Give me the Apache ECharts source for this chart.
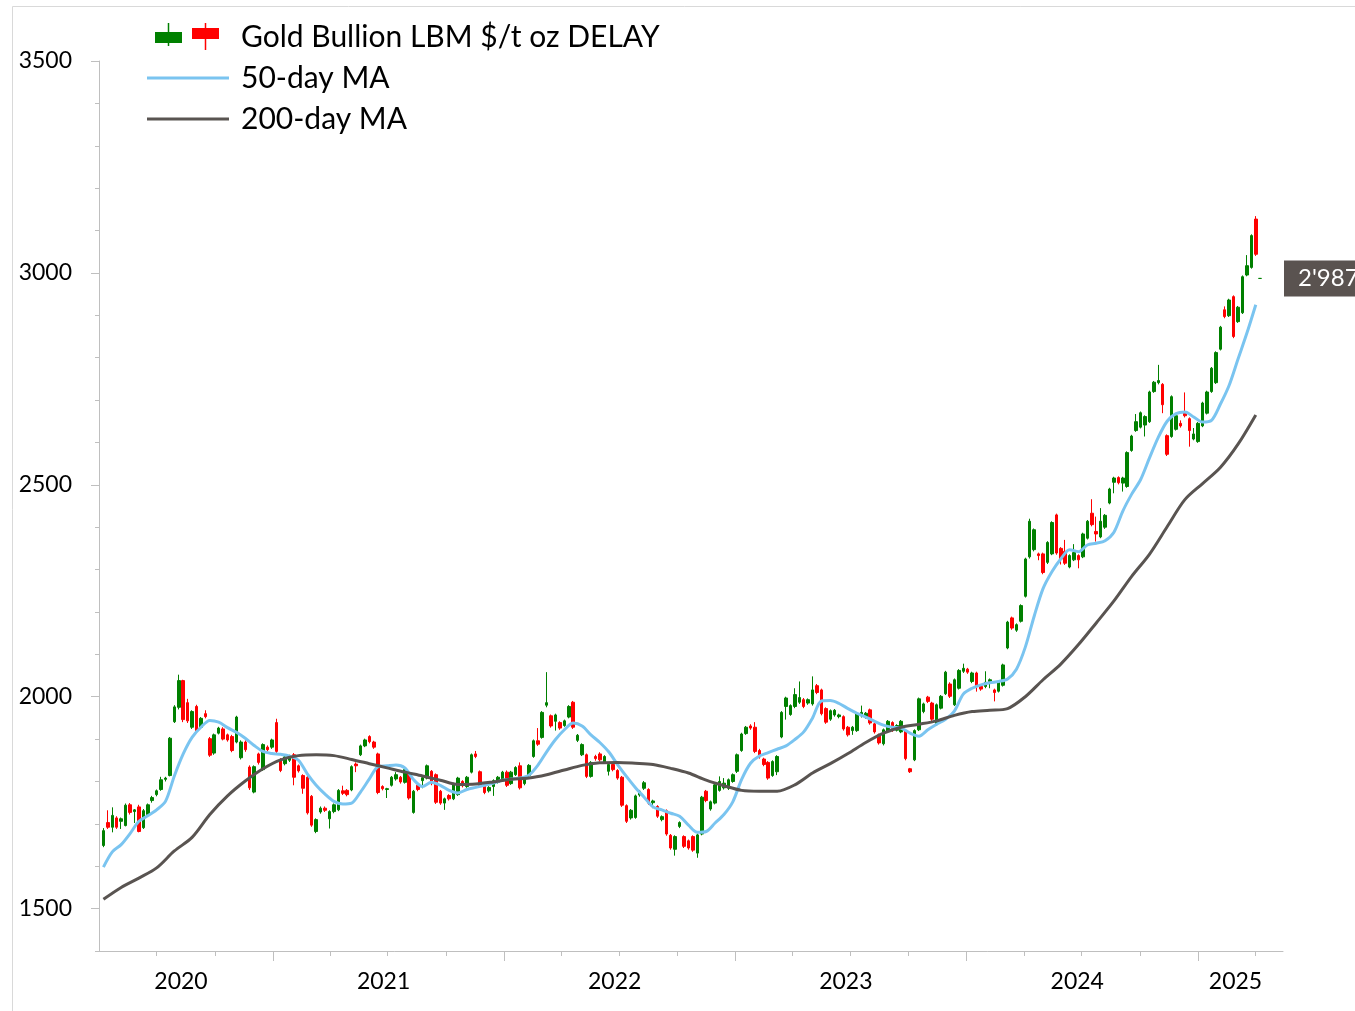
<!DOCTYPE html>
<html>
<head>
<meta charset="utf-8">
<title>Gold Bullion LBM</title>
<script src="https://cdn.jsdelivr.net/npm/echarts@6/dist/echarts.min.js"></script>
<style>
  html, body { margin: 0; padding: 0; background: #fff; }
  #chart { width: 1355px; height: 1011px; }
</style>
</head>
<body>
<div id="chart"></div>
<script>
// weekly candles, [open, close, low, high]; first week starts Mon 2020-04-06
const firstWeek = '2020-04-06'

const ohlc2020 = [
  [1649, 1684, 1645, 1690], [1703, 1692, 1688, 1732], [1692, 1720, 1680, 1739], [1714, 1692, 1688, 1718],
  [1706, 1712, 1688, 1715], [1696, 1744, 1694, 1748], [1745, 1727, 1722, 1749], [1729, 1733, 1702, 1735],
  [1740, 1682, 1680, 1745], [1691, 1731, 1688, 1735], [1722, 1745, 1718, 1748], [1755, 1762, 1750, 1766],
  [1769, 1778, 1765, 1781], [1781, 1804, 1778, 1811], [1805, 1808, 1800, 1811], [1814, 1902, 1812, 1905],
  [1941, 1976, 1938, 1980], [1975, 2038, 1970, 2052], [2038, 1946, 1940, 2040], [1986, 1943, 1938, 1995],
  [1928, 1965, 1924, 1968], [1977, 1920, 1915, 1981], [1928, 1949, 1925, 1952], [1960, 1953, 1949, 1968],
  [1901, 1862, 1858, 1905], [1867, 1910, 1863, 1913], [1914, 1926, 1911, 1929], [1924, 1900, 1897, 1928],
  [1910, 1898, 1894, 1913], [1906, 1873, 1869, 1910], [1893, 1952, 1890, 1955], [1856, 1893, 1852, 1897],
  [1893, 1875, 1870, 1897], [1834, 1785, 1780, 1838], [1775, 1835, 1772, 1838], [1865, 1845, 1840, 1868],
  [1828, 1887, 1825, 1890], [1881, 1875, 1871, 1885], [1881, 1898, 1877, 1901]
]
const ohlc2021 = [
  [1939, 1871, 1866, 1948], [1850, 1826, 1822, 1855], [1842, 1858, 1838, 1861], [1850, 1859, 1846, 1863],
  [1863, 1810, 1791, 1867], [1837, 1825, 1821, 1840], [1814, 1784, 1771, 1817], [1810, 1726, 1722, 1813],
  [1765, 1697, 1693, 1768], [1682, 1710, 1678, 1713], [1728, 1737, 1724, 1741], [1737, 1732, 1728, 1741],
  [1712, 1729, 1689, 1732], [1729, 1745, 1725, 1748], [1733, 1779, 1730, 1782], [1778, 1772, 1768, 1790],
  [1779, 1769, 1765, 1782], [1780, 1835, 1777, 1838], [1841, 1837, 1822, 1845], [1863, 1884, 1860, 1887],
  [1884, 1898, 1881, 1901], [1906, 1894, 1890, 1909], [1893, 1881, 1877, 1896], [1865, 1774, 1770, 1868],
  [1788, 1783, 1779, 1791], [1781, 1783, 1761, 1785], [1791, 1810, 1788, 1813], [1806, 1816, 1802, 1822],
  [1810, 1799, 1795, 1813], [1798, 1828, 1795, 1831], [1818, 1761, 1757, 1821], [1727, 1777, 1724, 1780],
  [1791, 1781, 1777, 1794], [1802, 1809, 1784, 1812], [1808, 1837, 1805, 1840], [1824, 1795, 1791, 1827],
  [1816, 1751, 1747, 1819], [1777, 1749, 1745, 1780], [1749, 1759, 1733, 1762], [1767, 1759, 1755, 1770],
  [1759, 1794, 1756, 1797], [1769, 1808, 1766, 1811], [1800, 1790, 1786, 1803], [1788, 1810, 1785, 1813],
  [1822, 1863, 1819, 1866], [1865, 1859, 1855, 1872], [1823, 1791, 1787, 1826], [1789, 1774, 1770, 1792],
  [1778, 1786, 1774, 1789], [1788, 1802, 1766, 1805], [1798, 1810, 1795, 1813], [1804, 1822, 1801, 1825]
]
const ohlc2022 = [
  [1822, 1791, 1787, 1826], [1795, 1822, 1792, 1825], [1816, 1833, 1813, 1836], [1837, 1785, 1781, 1845],
  [1795, 1807, 1791, 1810], [1814, 1838, 1811, 1841], [1859, 1896, 1856, 1899], [1896, 1888, 1884, 1926],
  [1904, 1963, 1901, 1966], [1980, 1986, 1975, 2058], [1955, 1931, 1927, 1958], [1942, 1957, 1920, 1960],
  [1939, 1926, 1922, 1942], [1932, 1943, 1929, 1946], [1952, 1977, 1949, 1980], [1987, 1928, 1924, 1990],
  [1897, 1909, 1893, 1912], [1863, 1887, 1860, 1890], [1863, 1812, 1808, 1866], [1812, 1845, 1809, 1848],
  [1859, 1854, 1849, 1863], [1865, 1851, 1847, 1869], [1845, 1859, 1842, 1862], [1824, 1840, 1814, 1843],
  [1840, 1828, 1824, 1843], [1826, 1808, 1804, 1829], [1810, 1744, 1740, 1813], [1743, 1706, 1702, 1746],
  [1714, 1732, 1710, 1735], [1715, 1766, 1712, 1769], [1768, 1777, 1764, 1780], [1784, 1797, 1780, 1801],
  [1781, 1749, 1745, 1784], [1750, 1754, 1737, 1757], [1741, 1718, 1714, 1744], [1710, 1717, 1706, 1720],
  [1731, 1676, 1672, 1734], [1673, 1643, 1639, 1676], [1640, 1670, 1625, 1673], [1694, 1703, 1690, 1706],
  [1670, 1647, 1643, 1673], [1660, 1643, 1639, 1663], [1670, 1638, 1634, 1673], [1631, 1674, 1620, 1677],
  [1676, 1763, 1673, 1766], [1777, 1755, 1751, 1780], [1735, 1752, 1731, 1755], [1749, 1792, 1746, 1795],
  [1779, 1800, 1776, 1812], [1785, 1796, 1781, 1808], [1784, 1804, 1780, 1807], [1800, 1816, 1797, 1819]
]
const ohlc2023 = [
  [1824, 1863, 1820, 1866], [1873, 1912, 1870, 1915], [1913, 1928, 1910, 1931], [1931, 1926, 1922, 1935],
  [1928, 1871, 1867, 1940], [1873, 1858, 1854, 1877], [1853, 1840, 1836, 1856], [1845, 1808, 1804, 1848],
  [1814, 1847, 1811, 1850], [1823, 1859, 1815, 1862], [1905, 1963, 1902, 1966], [1977, 1997, 1946, 2000],
  [1958, 1979, 1955, 1982], [1977, 2005, 1973, 2020], [1987, 1998, 1983, 2036], [1993, 1977, 1973, 1997],
  [1985, 1993, 1981, 1996], [1983, 2016, 1979, 2048], [2026, 2010, 2006, 2030], [2016, 1960, 1956, 2019],
  [1972, 1940, 1936, 1975], [1947, 1967, 1943, 1970], [1957, 1968, 1953, 1971], [1953, 1957, 1949, 1960],
  [1953, 1924, 1920, 1956], [1928, 1910, 1906, 1931], [1920, 1928, 1910, 1931], [1920, 1960, 1917, 1963],
  [1955, 1963, 1951, 1979], [1952, 1961, 1948, 1964], [1969, 1938, 1934, 1972], [1936, 1917, 1913, 1939],
  [1910, 1891, 1887, 1913], [1889, 1922, 1885, 1925], [1918, 1942, 1915, 1945], [1939, 1921, 1917, 1942],
  [1921, 1932, 1918, 1935], [1917, 1942, 1914, 1945], [1920, 1854, 1850, 1923], [1830, 1823, 1820, 1832],
  [1851, 1920, 1848, 1923], [1922, 1995, 1919, 1998], [1965, 1983, 1961, 1986], [1999, 1989, 1985, 2002],
  [1985, 1947, 1943, 1988], [1934, 1981, 1931, 1984], [1973, 2001, 1970, 2004], [2007, 2058, 2004, 2061],
  [2030, 2001, 1997, 2034], [1981, 2040, 1978, 2043], [2020, 2062, 2017, 2065], [2060, 2067, 2056, 2078]
]
const ohlc2024 = [
  [2065, 2058, 2054, 2068], [2036, 2056, 2032, 2059], [2056, 2024, 2012, 2059], [2024, 2018, 2014, 2027],
  [2024, 2034, 2020, 2060], [2036, 2040, 2020, 2043], [2016, 2010, 1989, 2019], [2013, 2036, 2010, 2039],
  [2027, 2075, 2024, 2078], [2115, 2176, 2112, 2179], [2186, 2162, 2158, 2189], [2157, 2170, 2153, 2173],
  [2178, 2215, 2175, 2218], [2237, 2325, 2234, 2328], [2330, 2414, 2326, 2420], [2347, 2394, 2343, 2397],
  [2337, 2333, 2322, 2340], [2337, 2293, 2289, 2340], [2317, 2364, 2313, 2367], [2337, 2411, 2334, 2414],
  [2429, 2339, 2335, 2432], [2350, 2325, 2312, 2353], [2343, 2315, 2311, 2370], [2306, 2333, 2303, 2336],
  [2323, 2340, 2320, 2360], [2333, 2323, 2303, 2336], [2330, 2384, 2327, 2387], [2374, 2414, 2371, 2417],
  [2433, 2406, 2402, 2466], [2390, 2384, 2366, 2425], [2377, 2414, 2374, 2445], [2400, 2428, 2396, 2431],
  [2457, 2490, 2454, 2493], [2506, 2516, 2480, 2519], [2517, 2505, 2501, 2520], [2504, 2516, 2484, 2519],
  [2496, 2576, 2493, 2579], [2581, 2615, 2578, 2618], [2628, 2649, 2625, 2667], [2636, 2670, 2633, 2673],
  [2641, 2661, 2614, 2664], [2649, 2719, 2646, 2722], [2720, 2742, 2717, 2745], [2741, 2746, 2737, 2783],
  [2737, 2689, 2669, 2740], [2616, 2572, 2568, 2619], [2614, 2708, 2611, 2711], [2631, 2663, 2628, 2666],
  [2645, 2639, 2635, 2652], [2670, 2663, 2659, 2718], [2656, 2628, 2590, 2659], [2608, 2620, 2605, 2634],
  [2602, 2645, 2599, 2648]
]
const ohlc2025 = [
  [2639, 2693, 2636, 2696], [2669, 2719, 2666, 2722], [2720, 2775, 2717, 2778], [2741, 2812, 2738, 2815],
  [2820, 2872, 2817, 2875], [2913, 2897, 2893, 2921], [2899, 2936, 2896, 2939], [2944, 2850, 2846, 2947],
  [2885, 2919, 2882, 2922], [2906, 2991, 2903, 2994], [2995, 3017, 2992, 3042], [3013, 3088, 3010, 3091],
  [3127, 3044, 3040, 3134], [2987, 2987, 2987, 2987]
]

// 50-day MA, one reading every 2 weeks from the first candle
const ma50 = [
  1598, 1634, 1651, 1677, 1706, 1719, 1733, 1753, 1813, 1865, 1904, 1928, 1944, 1940, 1927, 1916,
  1902, 1885, 1871, 1866, 1864, 1860, 1850, 1818, 1791, 1770, 1753, 1747, 1749, 1775, 1806, 1835,
  1837, 1839, 1832, 1804, 1788, 1798, 1791, 1779, 1773, 1781, 1786, 1791, 1796, 1803, 1806, 1808,
  1815, 1838, 1870, 1899, 1922, 1938, 1931, 1910, 1892, 1870, 1840, 1812, 1786, 1763, 1740, 1733,
  1725, 1718, 1697, 1680, 1682, 1702, 1722, 1752, 1805, 1843, 1860, 1868, 1876, 1884, 1899, 1917,
  1950, 1990, 1991, 1984, 1972, 1961, 1952, 1942, 1933, 1928, 1926, 1914, 1907, 1922, 1935, 1947,
  1966, 2006, 2020, 2028, 2033, 2036, 2042, 2065, 2117, 2190, 2255, 2295, 2325, 2347, 2342, 2358,
  2362, 2368, 2388, 2438, 2478, 2512, 2563, 2612, 2650, 2668, 2672, 2660, 2648, 2652, 2690, 2735,
  2797, 2858, 2925
]
// 200-day MA, one reading every 4 weeks from the first candle
const ma200 = [
  1522, 1550, 1572, 1596, 1636, 1668, 1722, 1766, 1801, 1830, 1851, 1861, 1863, 1861, 1852, 1842,
  1832, 1822, 1813, 1803, 1793, 1794, 1799, 1805, 1808, 1816, 1827, 1838, 1844, 1845, 1843, 1840,
  1831, 1820, 1803, 1790, 1779, 1777, 1777, 1792, 1820, 1842, 1866, 1892, 1914, 1928, 1935, 1943,
  1956, 1965, 1968, 1972, 2000, 2040, 2077, 2123, 2174, 2226, 2284, 2336, 2401, 2465, 2503, 2541,
  2596, 2665
]

const quarterTicks = [
  '2020-07-01', '2020-10-01', '2021-01-01', '2021-04-01', '2021-07-01', '2021-10-01',
  '2022-01-01', '2022-04-01', '2022-07-01', '2022-10-01', '2023-01-01', '2023-04-01',
  '2023-07-01', '2023-10-01', '2024-01-01', '2024-04-01', '2024-07-01', '2024-10-01',
  '2025-01-01', '2025-04-01'
]
const yearTicks = ['2021-01-01', '2022-01-01', '2023-01-01', '2024-01-01', '2025-01-01']
const yearLabels = ['2020', '2021', '2022', '2023', '2024', '2025']
const axisStart = '2020-04-01'
const axisEnd = '2025-05-15'
const yLabels = [1500, 2000, 2500, 3000, 3500]

const seriesNames = ['Gold Bullion LBM $/t oz DELAY', '50-day MA', '200-day MA']

// ---------------------------------------------------------------
const DAY = 86400000
const day = s => Date.parse(s + 'T00:00:00Z') / DAY

const xMin = day(axisStart)
const xMax = day(axisEnd)
const weekMid = day(firstWeek) + 2  // candles centred on Wednesday

const weeks = [].concat(ohlc2020, ohlc2021, ohlc2022, ohlc2023, ohlc2024, ohlc2025)
const candleData = weeks.map((w, i) => [weekMid + 7 * i, w[0], w[1], w[2], w[3]])
// last fixing of the series is a single flat (green) print
const lastIdx = candleData.length - 1
candleData[lastIdx] = {
  value: candleData[lastIdx],
  itemStyle: { color: '#008000', color0: '#008000', borderColor: '#008000', borderColor0: '#008000' }
}
const lastClose = weeks[lastIdx][1]
const fmtThousands = v => String(v).replace(/\B(?=(\d{3})+(?!\d))/g, "'")

const ma50Data = ma50.map((v, i) => [weekMid + 14 * i, v])
const ma200Data = ma200.map((v, i) => [weekMid + 28 * i, v])

// year label sits a little left of the middle of the visible part of each year
const yearMids = yearLabels.map(y => {
  const a = Math.max(day(y + '-01-01'), xMin)
  const b = Math.min(day((+y + 1) + '-01-01'), xMax)
  return (a + b) / 2 - 8
})

const axisGrey = '#bfbfbf'
const font = 'Lato'

const candleIcon = 'image://data:image/svg+xml;utf8,' + encodeURIComponent(
  '<svg xmlns="http://www.w3.org/2000/svg" width="82" height="28" viewBox="0 0 82 28">' +
  '<path d="M21.5 0V23" stroke="#008000" stroke-width="1.5"/>' +
  '<rect x="8" y="9" width="27" height="11" fill="#008000"/>' +
  '<path d="M58.5 0V27" stroke="#ff0000" stroke-width="1.5"/>' +
  '<rect x="45" y="5" width="27" height="11" fill="#ff0000"/></svg>'
)
const lineIcon = 'path://M0,0H82V3H0Z'

const chart = echarts.init(document.getElementById('chart'), null, { renderer: 'canvas' })

chart.setOption({
  animation: false,
  backgroundColor: '#fff',
  textStyle: { fontFamily: font },
  graphic: [{
    type: 'rect',
    shape: { x: 12.5, y: 6.5, width: 1400, height: 1100 },
    style: { fill: 'none', stroke: '#d9d9d9', lineWidth: 1 },
    silent: true,
    z: -10
  }],
  legend: {
    orient: 'vertical',
    left: 147,
    top: 22,
    padding: 0,
    itemWidth: 82,
    itemHeight: 28,
    itemGap: 11,
    selectedMode: false,
    textStyle: { fontFamily: font, fontSize: 30, color: '#000', padding: [0, 0, 0, 7] },
    data: [
      { name: seriesNames[0], icon: candleIcon },
      { name: seriesNames[1], icon: lineIcon },
      { name: seriesNames[2], icon: lineIcon }
    ]
  },
  grid: { left: 99, top: 61, width: 1184, height: 890, outerBoundsMode: 'none' },
  xAxis: [{
    type: 'value',
    min: xMin,
    max: xMax,
    splitLine: { show: false },
    axisLine: { show: true, lineStyle: { color: axisGrey, width: 1 } },
    axisTick: { show: true, length: 5, customValues: quarterTicks.map(day), lineStyle: { color: axisGrey } },
    axisLabel: {
      customValues: yearMids,
      formatter: v => String(new Date((v + 8) * DAY).getUTCFullYear()),
      fontFamily: font, fontSize: 23, color: '#000', margin: 19
    }
  }, {
    type: 'value',
    min: xMin,
    max: xMax,
    position: 'bottom',
    splitLine: { show: false },
    axisLine: { show: false },
    axisTick: { show: true, length: 10, customValues: yearTicks.map(day), lineStyle: { color: axisGrey } },
    axisLabel: { show: false }
  }],
  yAxis: [{
    type: 'value',
    min: 1400,
    max: 3500,
    interval: 100,
    splitLine: { show: false },
    axisLine: { show: true, lineStyle: { color: axisGrey } },
    axisTick: { show: true, length: 4, lineStyle: { color: axisGrey } },
    axisLabel: {
      formatter: v => (yLabels.indexOf(v) >= 0 ? String(v) : ''),
      fontFamily: font, fontSize: 23, color: '#000', margin: 27
    }
  }, {
    type: 'value',
    min: 1400,
    max: 3500,
    position: 'left',
    splitLine: { show: false },
    axisLine: { show: false },
    axisTick: { show: true, length: 8, customValues: yLabels, lineStyle: { color: axisGrey } },
    axisLabel: { show: false }
  }, {
    // last-price tag on the right edge
    type: 'value',
    min: 1400,
    max: 3500,
    position: 'right',
    splitLine: { show: false },
    axisLine: { show: false },
    axisTick: { show: false },
    axisLabel: {
      customValues: [lastClose],
      formatter: v => fmtThousands(v),
      margin: 1,
      backgroundColor: '#5a5350',
      color: '#fff',
      fontFamily: font,
      fontSize: 24,
      lineHeight: 24,
      padding: [7, 14, 5, 14]
    }
  }],
  series: [{
    name: seriesNames[0],
    type: 'candlestick',
    xAxisIndex: 0,
    yAxisIndex: 0,
    barWidth: 3,
    itemStyle: {
      color: '#008000',
      color0: '#ff0000',
      borderColor: '#008000',
      borderColor0: '#ff0000',
      borderWidth: 1
    },
    data: candleData
  }, {
    name: seriesNames[1],
    type: 'line',
    xAxisIndex: 0,
    yAxisIndex: 0,
    data: ma50Data,
    showSymbol: false,
    smooth: 0.3,
    lineStyle: { color: '#7ac4f0', width: 3 },
    itemStyle: { color: '#7ac4f0' }
  }, {
    name: seriesNames[2],
    type: 'line',
    xAxisIndex: 0,
    yAxisIndex: 0,
    data: ma200Data,
    showSymbol: false,
    smooth: 0.3,
    lineStyle: { color: '#595451', width: 3 },
    itemStyle: { color: '#595451' }
  }]
})

window.addEventListener('resize', () => chart.resize())
</script>
</body>
</html>
